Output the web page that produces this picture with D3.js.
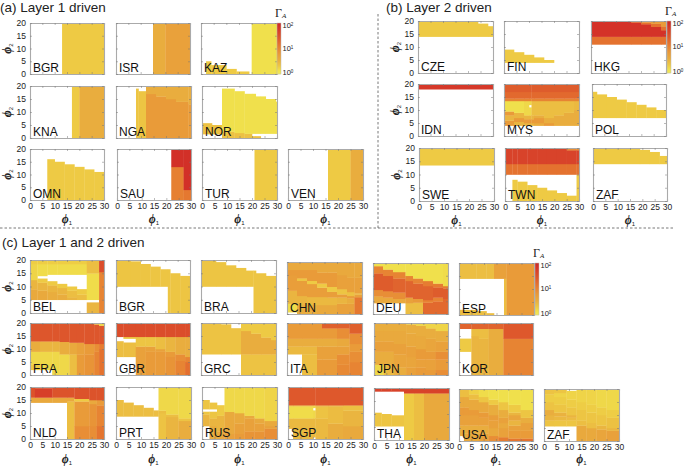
<!DOCTYPE html>
<html>
<head>
<meta charset="utf-8">
<script src="https://cdnjs.cloudflare.com/ajax/libs/d3/7.8.5/d3.min.js"></script>
<style>
body { margin:0; background:#fff; }
text { font-family:"Liberation Sans", Arial, sans-serif; fill:#222; }
.title { font-size:13.5px; }
.tick-label { font-size:8.5px; }
.country { font-size:12px; fill:#111; }
.phi { font-family:"Liberation Serif", serif; font-style:italic; font-weight:bold; font-size:12px; }
.phi tspan { font-family:"Liberation Sans", sans-serif; font-style:normal; font-weight:normal; font-size:6px; }
</style>
</head>
<body>
<div id="canvas"></div>
<script>
// each strip: phi1 start, then phi2 break, gamma, phi2 break, gamma, ... phi2 break
// a strip runs up to the next strip's start (or 30). null gamma = not driven (white)

// (a) Layer 1 driven
var bgrA = [[13,0,2,20]];
var isrA = [[15,0,3.5,20],[20,0,5,20]];
var kazA = [[2,0,2,5],[4,0,2,3.5],[10,0,2,2],[14,0,2,1],[19],[20,0,1.4,20]];
var knaA = [[17,0,2,20],[20,0,3.5,20]];
var ngaA = [[8,0,2.2,19],[9,0,2.2,18],[12,0,6,17,3.5,20],[16,0,6,16,3.5,20],[20,0,6,15,3.5,20],[24,0,6,14,3.5,20],[29,0,6,13,3.5,20]];
var norA = [[0,1.5,2.4,5.7],[4,1.5,2.4,5],[8,0,2.4,2.5,1.4,19],[13,0,2.4,2,1.4,18],[17,0,2.4,1.7,1.4,17],[20,0,2.4,0.7,null,1.7,1.4,17],[21.5,0,2.4,0.7,null,1.7,1.4,16],[23.5,1.7,1.4,16],[25.5,1.7,1.4,15],[29.5,1.7,1.4,14]];
var omnA = [[7,0,2,16],[10,0,2,15],[14,0,2,14],[18,0,2,13],[22,0,2,12],[26,0,2,11]];
var sauA = [[22,0,11,13,75,20],[27,0,13,4,75,20]];
var turA = [[21,0,2,20]];
var venA = [[16,0,2,20],[25,0,3.5,20]];

// (b) Layer 2 driven
var czeB = [[0,14,2,20],[24,14,2,19],[28,14,2,18]];
var finB = [[0,4,2,9],[4,4,2,8],[8,4,2,7],[12,4,2,6],[16,4,2,5],[20]];
var hkgB = [[0,11,15,14,70,20],[16,11,15,14,70,19.5,15,20],[20,11,15,14,70,18.8,15,19.5,6,20],[24,11,15,14,70,17.8,15,19,6,20],[28,11,15,14,70,16.5,15,18,6,20]];
var idnB = [[0,18,60,20]];
var mysB = [[0,4,6,6,3,8,6,9.5,1.4,13.5,10,14.5,18,17,24,20],[4,4,3,5.5,6,7,3,9,1.4,13.5,10,14.5,18,17,24,20],[8,4,3,5,6,6.5,3,8,1.6,13.5,10,14.5,18,17,24,20],[10,4,3,5,6,6.5,3,8,1.6,11,null,12,1.6,13.5,10,14.5,18,17,24,20],[11,4,3,5,6,6.5,3,8,2.5,13.5,10,14.5,18,17,24,20],[12,4,3.5,5,6,7,3.5,8,2.5,13.5,10,14.5,18,17,24,20],[16,4,6,5,3.5,7,2.5,13.5,10,14.5,18,17,24,20],[20,4,3.5,8,2.5,13.5,10,14.5,18,17,24,20],[24,4,3.5,9,2.5,13.5,10,14.5,18,17,24,20],[28,4,3.5,10,2.8,13.5,10,14.5,18,17,24,20]];
var polB = [[0,7,2,17],[2,7,2,16],[6,7,2,15],[10,7,2,14],[14,7,2,13],[18,7,2,12],[22,7,2,11],[26,7,2,10]];
var sweB = [[0,13.5,2,20]];
var twnB = [[0,10,15,14,45,20],[3,0,2,8,null,10,15,14,45,20],[5,0,2,7.3,null,10,15,14,45,20],[9,0,2,6,null,10,15,14,45,20],[13,0,2,5,null,10,15,14,45,20],[17,0,2,4,null,10,15,14,45,20],[21,0,2,3,null,10,15,14,45,20],[25,0,2,2,null,10,15,14,45,19.2,8,20],[29,0,2,10,15,14,45,19.2,8,20]];
var zafB = [[0,14,2,20],[19,14,2,19.3],[23,14,2,18.5],[27,14,2,17]];

// (c) Layer 1 and 2 driven
var belC = [[0,5,4,9,3,12.5,1.7,18.5,1.9,20],[3,5,4,8.5,3,11.5,2,13,null,14,1.5,18.5,1.9,20],[7,5,3.5,8,3,10.5,2,12,null,14.5,1.5,18.5,1.9,20],[11,5,3.5,7,3,9.5,2,11,null,14.5,1.5,18.5,1.9,20],[15,5,3,6,2.5,8.5,2,10,null,14.5,1.5,18.5,1.9,20],[19,5,2.5,7,2,9,null,14.5,1.5,18.5,1.9,20],[23,0,3,4,null,5,1.5,15,2.5,20],[28,0,10,15.5,35,20]];
var bgrC = [[0,10,2.2,20],[6,10,2.2,19.5],[10,10,2.2,18.5],[14,10,2.2,17.5],[18,10,2.2,16.5],[21,0,2.2,16.5],[22,0,2.2,15],[26,0,2.2,14]];
var braC = [[0,10,2.2,20],[6,10,2.2,19.2],[10,10,2.2,18],[14,10,2.2,17],[18,10,2.2,16],[21,0,2.2,16],[22,0,2.2,15],[26,0,2.2,14]];
var chnC = [[0,0.7,1.5,4,3,9,5.5,15,6,17,4,20],[4,0,3.5,3.5,3,7,5.5,12.8,2.2,13.8,6,17,4,20],[8,0,3.5,3.5,2.8,6.6,5.5,11.6,2,12.8,6,17,4,20],[12,0,4,3.5,2.8,6.6,5.5,10.2,2,11.8,6,16,4,20],[16,0,4,3.5,2.8,6.4,5.5,8.6,2,10.5,6,16,4,20],[20,0,5,4,3,6.4,5.5,7.6,2.2,9.6,5,15,4,20],[24,0,5,4,3.5,6,5.5,7,2.4,8.5,5,14,4,20],[27,0,13,6.5,5,7.6,2.5,8,5,14,4,20]];
var deuC = [[0,4.3,4,7,8,9.5,24,16,10,18.8,1.4,20],[4,4.3,4,6.5,8,9,24,15,10,17.5,1.4,20],[8,4.3,4,6,8,8.5,20,14,10,16.5,1.4,20],[13,0,2.5,4.3,5,6.5,20,13,10,15,1.4,20],[16,0,2.5,4.5,6,6,20,12,10,14,1.4,20],[20,0,18,4.5,10,5.5,20,11,12,13,1.4,20],[24,0,18,5,10,6.5,24,10.5,12,12,1.4,20],[28,0,18,6,24,10,12,11,1.5,20]];
var espC = [[0,0,2.5,2,null,14,2.5,20],[7,0,2.5,1.5,null,14,2.5,20],[11,0,2.5,0.7,null,14,2.5,20],[14,14,5,20],[18,0,2.5,14,5,20],[19,0,6,20]];
var fraC = [[0,2,2,4,1.6,9,3.5,13,28,20],[4,2,1.6,9,3,13,28,20],[9,0,1.6,9,3,13,28,20],[12,0,1.6,8,3.5,12.8,28,20],[16,0,2.5,8,4,12.5,28,20],[19,0,6,8,5,12.5,28,20],[22,0,7,8,6,12,28,20],[26,0,10,9,8,12,28,19.5,2,20],[28,0,15,10,12,12,28,19,1.6,20]];
var gbrC = [[0,7,2.5,13,null,14.7,35,20],[3,7,2.5,12.5,null,14,2,14.7,35,20],[8,0,5,11,2.2,14.7,35,20],[12,0,6,9,5,11,2.2,14.7,35,20],[16,0,6,9,5,10,2.5,14.7,35,20],[20,0,7,7,6,9,3,14.7,35,20],[24,0,10,5.5,8,8,3.5,14.7,35,20],[28,0,16,5,10,7,3.5,14.7,35,20]];
var grcC = [[0,8,2.3,20],[8,8,2.3,19.5],[12,8,2.3,18],[16,0,2.3,8,3.5,17,2,20],[20,0,2.3,8,3.5,16,2,20],[24,0,2.3,8,3.5,14.5,2,20],[28,0,2.3,8,3.5,13.5,2,20]];
var itaC = [[0,8,2.8,11,3.5,14,6,20],[6,0,2.5,8,2.8,11,3.5,14,6,20],[12,0,6,6,5,11,3.5,14,6,20],[14,0,6,6,5,11,3.5,14,6,18,22,20],[20,0,9,4,8,8,5,11,4,14,8,18,22,20],[25,0,10,5,8,9,6,12,8,16,22,20]];
var jpnC = [[0,0,1.6,4,3.5,9,5,13,4,17,3.5,20],[4,0,2.8,4,3.5,9,5,13,4,17,3.5,20],[8,0,3.5,3,4.5,8,5,12,4,17,3.5,20],[13,0,5,3,4.5,7,5,11,4,16,3.5,19.5,1.7,20],[17,0,6,3,5,6,6,10,4,15,3.5,19,1.7,20],[21,0,6,2,5,6,6,9,4.5,14,3.5,18,1.7,20],[25,0,8,2,6,6,8,9,5,13,3.5,17,1.7,20]];
var korC = [[0,9,2,14,null,17.8,20,20],[5,0,3,15,2.5,17.8,20,20],[8,0,3,14,2.5,17.8,20,20],[12,0,3.5,17.8,20,20],[18,0,10,14,26,20]];
var nldC = [[0,14,4,16,30,20],[2,14,4,16,50,19.5,30,20],[9,14,4,16,30,20],[15,0,2.5,14.5,4,16,30,20],[18,0,8,5,6,14.5,2,15.5,30,20],[24,0,8,5,7,13.5,4,15,30,20],[27,0,14,5,10,13,6,15,30,20]];
var prtC = [[0,8.7,2.5,15],[3,8.7,2.5,14],[7,8.7,2.5,13],[11,8.7,2.5,12],[15,8.7,2.5,11],[17,0,2.3,10,2.5,11,1.6,20],[20,0,3,8.5,2.5,9.5,1.6,20],[25,0,3.5,7,2.3,8,1.6,20]];
var rusC = [[0,5,3,9.5,2.2,10.5,null,11.5,2.2,15,null,20],[3,0,3.5,5,3,8,2.2,10.5,null,11.5,2.2,14,null,20],[6,0,4,3,3,9,2,13,null,20],[9,0,5,2,4,10.5,1.6,20],[13,0,6,2,5,6,4,10,1.6,20],[17,0,7,3,5,8,4,9,1.6,20],[21,0,7,3,5,6,4,8,1.6,20],[25,0,8,4,5,5,4,7,1.7,20]];
var sgpC = [[0,4,2.8,8,1.5,12.5,2,13,26,20],[2,0,2.8,8,1.5,12.5,2,13,26,20],[10,0.7,2.8,8,1.6,11,null,12,1.6,13,26,20],[11,0,2.8,8,2.3,12.5,3,13,26,20],[16,0,3.5,6,2.6,12.5,3,13,26,20],[22,0,4,5,3,11,2.4,13,26,20]];
var thaC = [[0,5.3,2.2,10.5,null,18.7,45,20],[3,5.3,2.2,10,null,18.7,45,20],[7,5.3,2.2,9.5,null,18.7,45,20],[12,0,2,18,45,20],[16,0,2.5,18,45,20],[20,0,4,18,45,20]];
var usaC = [[0,2,3.5,6,5,10,6,13,4,17,2.5,20],[2,0,4,3,3.5,6,5,10,6,13,4,17,2.5,20],[4,0,4,3,3.5,6,5,10,6,12,4,16,2.5,18,1.8,20],[8,0,5,3,3.5,6,5,9,6,11,4,15,2.2,17,1.5,20],[12,0,8,2,4,5,5,8,5.5,10,3.5,14,2,16,1.4,20],[16,0,12,1.5,5,5,4,7,5,9,3.5,12,2.2,15,1.4,20],[20,0,14,1,6,4,5,6,3,8,4.5,10,3,11,2,14,1.4,20],[25,0,15,1,6,4,5,7,3.5,9,2.2,12,1.4,20]];
var zafC = [[0,5.7,2.3,8,3,10,3.5,12,2.3,15,1.9,18,2.3,20],[4,5.7,2.2,8,2.8,9.5,3.2,11,2.2,14,1.9,17,1.7,18.5,2.2,20],[9,5.7,2.2,8,2.6,9,3,10,2.2,13,1.9,16,1.7,19.3,null,20],[13,0,4,6,2.5,8,2.2,12,1.9,15,1.7,20],[17,0,4,5,2.5,7,2.2,11,1.9,14,1.7,20],[21,0,4.5,4.5,3,6,2.2,10,1.9,13,1.6,20],[25,0,5,4,3,5,2.4,9,1.9,12,1.6,20]];

var phi1Ticks = [0,5,10,15,20,25,30];
var phi2Ticks = [0,5,10,15,20];
var cbTicks = [1,10,100];

// colours, log spaced
var gammaStops = [1,1.4,2,3.5,6,12,25,70,100];
var colorStops = ['#f4ea57','#f0e04c','#eeca44','#e9ad3e','#e99b39','#e67c31','#de5a2c','#d43228','#c92a26'];
var color = d3.scaleLog().domain(gammaStops).range(colorStops).clamp(true);

// panel boxes: name, strips, left, top, width, height, y axis?, x axis?
var panels = [
  ['BGR',bgrA,30,23,74,51,1,0],['ISR',isrA,116,23,74,51,0,0],['KAZ',kazA,201,23,76,51,0,0],
  ['KNA',knaA,30,86,74,52,1,0],['NGA',ngaA,116,86,75,52,0,0],['NOR',norA,202,86,75,52,0,0],
  ['OMN',omnA,30,149,74,51,1,1],['SAU',sauA,117,149,74,51,0,1],['TUR',turA,202,149,75,51,0,1],['VEN',venA,288,149,75,51,0,1],
  ['CZE',czeB,418,21,75,52,1,0],['FIN',finB,504,21,75,52,0,0],['HKG',hkgB,591,21,75,52,0,0],
  ['IDN',idnB,418,84,75,52,1,0],['MYS',mysB,504,84,75,52,0,0],['POL',polB,592,84,74,52,0,0],
  ['SWE',sweB,419,148,75,53,1,1],['TWN',twnB,505,148,74,53,0,1],['ZAF',zafB,593,148,74,53,0,1],
  ['BEL',belC,30,260,74,53,1,0],['BGR',bgrC,116,260,74,53,0,0],['BRA',braC,201,260,75,53,0,0],['CHN',chnC,287,262,75,52,0,0],['DEU',deuC,373,263,75,51,0,0],['ESP',espC,459,263,75,52,0,0],
  ['FRA',fraC,30,323,74,52,1,0],['GBR',gbrC,116,323,74,52,0,0],['GRC',grcC,201,323,75,52,0,0],['ITA',itaC,287,323,75,52,0,0],['JPN',jpnC,374,323,74,52,0,0],['KOR',korC,459,323,74,52,0,0],
  ['NLD',nldC,30,387,74,52,1,1],['PRT',prtC,116,387,75,52,0,1],['RUS',rusC,202,387,75,52,0,1],['SGP',sgpC,288,387,75,52,0,1],['THA',thaC,374,388,75,52,0,1],['USA',usaC,459,389,74,52,0,1],['ZAF',zafC,544,389,75,52,0,1]
];
var colorbars = [[277,23,4,51],[667,21,4,52],[535,263,4,52]];
var titles = [['(a) Layer 1 driven',0,12],['(b) Layer 2 driven',386,12],['(c) Layer 1 and 2 driven',2,247]];

var svg = d3.select('#canvas').append('svg')
    .attr('width',685)
    .attr('height',468)
    .style('display','block');

svg.selectAll('.title').data(titles).enter().append('text')
    .attr('class','title')
    .attr('x',function(d){return d[1];})
    .attr('y',function(d){return d[2];})
    .text(function(d){return d[0];});

// dashed separators
svg.append('line').attr('x1',378).attr('x2',378).attr('y1',14).attr('y2',228)
    .attr('stroke','#555').attr('stroke-width',0.8).attr('stroke-dasharray','2.5,2');
svg.append('line').attr('x1',0).attr('x2',675).attr('y1',228).attr('y2',228)
    .attr('stroke','#555').attr('stroke-width',0.8).attr('stroke-dasharray','2.5,2');

panels.forEach(drawPanel);
colorbars.forEach(drawColorbar);

function drawPanel(p){
  var w = p[4], h = p[5];
  var g = svg.append('g').attr('transform','translate('+p[2]+','+p[3]+')');
  var scaleX = d3.scaleLinear().domain([0,30]).range([0,w]);
  var scaleY = d3.scaleLinear().domain([0,20]).range([h,0]);

  // turn strips into cells
  var cells = [];
  p[1].forEach(function(s,i){
    var end = i < p[1].length-1 ? p[1][i+1][0] : 30;
    for (var k=1; k+2<s.length; k+=2){
      if (s[k+1]!==null) cells.push({x0:s[0],x1:end,y0:s[k],y1:s[k+2],v:s[k+1]});
    }
  });

  g.selectAll('.cell').data(cells).enter().append('rect')
      .attr('class','cell')
      .attr('x',function(d){return scaleX(d.x0);})
      .attr('y',function(d){return scaleY(d.y1);})
      .attr('width',function(d){return scaleX(d.x1)-scaleX(d.x0)+0.3;})
      .attr('height',function(d){return scaleY(d.y0)-scaleY(d.y1)+0.3;})
      .attr('fill',function(d){return color(d.v);});

  // axes, ticks point inward on all four sides
  var bottom = g.append('g').attr('transform','translate(0,'+h+')')
      .call(d3.axisBottom(scaleX).tickValues(phi1Ticks).tickSize(-2).tickPadding(3));
  var top = g.append('g').call(d3.axisTop(scaleX).tickValues(phi1Ticks).tickSize(-2).tickFormat(''));
  var left = g.append('g')
      .call(d3.axisLeft(scaleY).tickValues(phi2Ticks).tickSize(-2).tickPadding(4));
  var right = g.append('g').attr('transform','translate('+w+',0)')
      .call(d3.axisRight(scaleY).tickValues(phi2Ticks).tickSize(-2).tickFormat(''));
  [bottom,top,left,right].forEach(function(a){
    a.select('.domain').attr('stroke','#aaa').attr('stroke-width',1.1);
    a.selectAll('.tick line').attr('stroke','#777').attr('stroke-width',0.5);
    a.attr('font-family',null).attr('font-size',null);
  });
  if (!p[7]) bottom.selectAll('.tick text').remove();
  if (!p[6]) left.selectAll('.tick text').remove();
  g.selectAll('.tick text').attr('class','tick-label').attr('fill',null);

  g.append('text').attr('class','country')
      .attr('x',3).attr('y',h-2.5)
      .text(p[0]);

  if (p[7]){
    // bottom row of (c) sits lower, its labels share one baseline
    var lx = g.append('text').attr('class','phi')
        .attr('x',w/2).attr('y',p[3]>300 ? 463-p[3] : h+23)
        .attr('text-anchor','middle')
        .text('\u03d5');
    lx.append('tspan').attr('dy',1.5).text('1');
  }
  if (p[6]){
    var ly = g.append('text').attr('class','phi')
        .attr('text-anchor','middle')
        .attr('transform','translate('+(-19)+','+(h/2)+') rotate(-90)')
        .text('\u03d5');
    ly.append('tspan').attr('dy',1.5).text('2');
  }
}

function drawColorbar(c){
  var g = svg.append('g').attr('transform','translate('+c[0]+','+c[1]+')');
  var scaleC = d3.scaleLog().domain([1,100]).range([c[3],0]);
  var steps = d3.range(0,c[3]);
  g.selectAll('rect').data(steps).enter().append('rect')
      .attr('x',0)
      .attr('y',function(d){return d;})
      .attr('width',c[2])
      .attr('height',1.2)
      .attr('fill',function(d){return color(scaleC.invert(d+0.5));});
  g.append('rect').attr('width',c[2]).attr('height',c[3])
      .attr('fill','none').attr('stroke','#bbb').attr('stroke-width',0.5);

  var labels = g.selectAll('.cb').data(cbTicks).enter().append('text')
      .attr('class','cb')
      .attr('x',c[2]+1.5)
      .attr('y',function(d){return scaleC(d)+(d==100?5:d==1?1:2);})
      .style('font-size','7.5px')
      .text('10');
  labels.append('tspan')
      .attr('dy',-2)
      .style('font-size','4.5px')
      .text(function(d){return Math.round(Math.log10(d));});

  var gamma = g.append('text')
      .attr('x',-2).attr('y',-6)
      .style('font-family','"Liberation Serif", serif')
      .style('font-size','12px')
      .text('\u0393');
  gamma.append('tspan').attr('dy',1)
      .style('font-style','italic')
      .style('font-size','7px')
      .text('A');
}
</script>
</body>
</html>
